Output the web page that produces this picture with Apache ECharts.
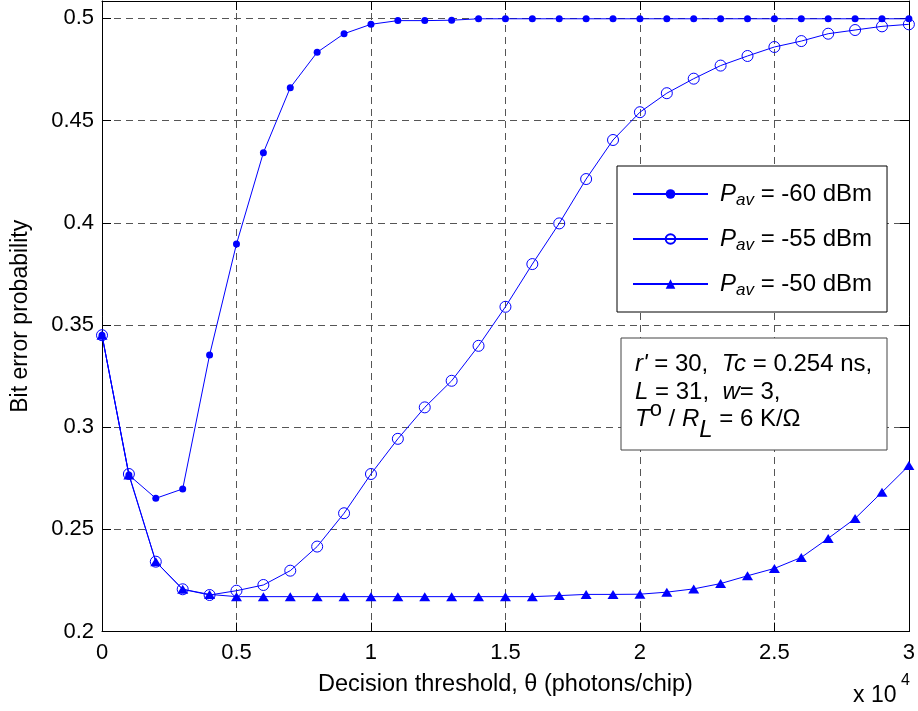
<!DOCTYPE html>
<html><head><meta charset="utf-8">
<script src="https://cdn.jsdelivr.net/npm/echarts@6/dist/echarts.min.js"></script>
<style>html,body{margin:0;padding:0;background:#fff}#c{width:918px;height:711px}</style>
</head><body><div id="c"></div>
<script>
const thresholds = [0,1000,2000,3000,4000,5000,6000,7000,8000,9000,10000,11000,12000,13000,14000,15000,16000,17000,18000,19000,20000,21000,22000,23000,24000,25000,26000,27000,28000,29000,30000];
const pav60 = [0.345,0.2766,0.2652,0.2698,0.3353,0.3896,0.4343,0.4661,0.4834,0.4925,0.4971,0.4989,0.4989,0.4991,0.4998,0.4998,0.4998,0.4998,0.4998,0.4998,0.4998,0.4998,0.4998,0.4998,0.4998,0.4998,0.4998,0.4998,0.4998,0.4998,0.4998];
const pav55 = [0.345,0.2771,0.2342,0.2207,0.2179,0.2200,0.2228,0.2298,0.2416,0.2579,0.2771,0.2943,0.3097,0.3227,0.3398,0.3589,0.3798,0.3997,0.4214,0.4405,0.4541,0.4634,0.4705,0.4769,0.4816,0.4860,0.4889,0.4925,0.4943,0.4961,0.4971];
const pav50 = [0.345,0.2766,0.2342,0.2207,0.2182,0.2171,0.2171,0.2171,0.2171,0.2171,0.2171,0.2171,0.2171,0.2171,0.2171,0.2171,0.2171,0.2176,0.2182,0.2182,0.2183,0.2193,0.2209,0.2235,0.2273,0.2309,0.2363,0.2456,0.2553,0.2682,0.2812];
const seriesPower = ['-60 dBm','-55 dBm','-50 dBm'];

const FONT = "'Liberation Sans', Arial, Helvetica, sans-serif";
const BLUE = '#0000ff';
const chart = echarts.init(document.getElementById('c'));
const pairs = arr => thresholds.map((x,i)=>[x, arr[i]]);
const axisCommon = {
  axisLine:{show:true, onZero:false, lineStyle:{color:'#000', width:1}},
  axisTick:{show:true, inside:true, length:9, lineStyle:{color:'#000'}}
};

// text runs for the annotation box (measured so italic / sub / superscript parts sit side by side)
const mctx = document.createElement('canvas').getContext('2d');
function runs(x0, yMid, parts){
  let x = x0; const out = [];
  parts.forEach(p=>{
    const size = p.size || 24;
    mctx.font = (p.it?'italic ':'') + size + 'px ' + FONT;
    out.push({type:'text', z:101, x:x, y:yMid + (p.dy||0), style:{text:p.t, fontFamily:FONT, fontSize:size,
      fontStyle:p.it?'italic':'normal', fill:'#000', verticalAlign:'middle', align:'left'}});
    x += mctx.measureText(p.t).width;
  });
  return out;
}
const annot = [].concat(
  runs(635, 364, [{t:"r'",it:1},{t:' = 30,  '},{t:'Tc',it:1},{t:' = 0.254 ns,'}]),
  runs(635, 392, [{t:'L',it:1},{t:' = 31,  '},{t:'w',it:1},{t:'= 3,'}]),
  runs(635, 419, [{t:'T',it:1},{t:'o',size:22,dy:-9},{t:' / '},{t:'R',it:1},{t:'L',it:1,dy:11},{t:' = 6 K/Ω'}])
);

chart.setOption({
  animation:false,
  backgroundColor:'#fff',
  grid:{left:102, right:9, top:1, bottom:79.4, containLabel:false},
  xAxis:[
    Object.assign({type:'value', min:0, max:30000, interval:5000, position:'bottom',
      name:'Decision threshold, θ (photons/chip)', nameLocation:'middle', nameGap:41,
      nameTextStyle:{fontFamily:FONT, fontSize:23.5, color:'#000'},
      axisLabel:{fontFamily:FONT, fontSize:22, color:'#000', margin:10, formatter:v=>String(v/10000)},
      splitLine:{show:true, lineStyle:{color:'#555', type:[7,5], width:1}}}, axisCommon),
    Object.assign({type:'value', min:0, max:30000, interval:5000, position:'top',
      axisLabel:{show:false}, splitLine:{show:false}}, axisCommon)
  ],
  yAxis:[
    Object.assign({type:'value', min:0.2, max:0.5085, interval:0.05, position:'left',
      name:'Bit error probability', nameLocation:'middle', nameGap:70,
      nameTextStyle:{fontFamily:FONT, fontSize:23, color:'#000'},
      axisLabel:{fontFamily:FONT, fontSize:22, color:'#000', margin:8, showMaxLabel:false},
      splitLine:{show:true, lineStyle:{color:'#555', type:[7,5], width:1}}}, axisCommon),
    Object.assign({type:'value', min:0.2, max:0.5085, interval:0.05, position:'right',
      axisLabel:{show:false}, splitLine:{show:false}}, axisCommon)
  ],
  legend:{
    orient:'vertical', left:617, top:166,
    backgroundColor:'#fff', borderColor:'#000', borderWidth:1,
    padding:[16,15,13,15], itemWidth:75, itemHeight:12, itemGap:18,
    data:seriesPower,
    formatter:n=>'{p|P}{s|av} = '+n,
    textStyle:{fontFamily:FONT, fontSize:24, color:'#000', padding:[0,0,0,7],
      rich:{
        p:{fontFamily:FONT, fontSize:24, fontStyle:'italic', color:'#000'},
        s:{fontFamily:FONT, fontSize:17, fontStyle:'italic', color:'#000', verticalAlign:'bottom', padding:[0,0,-3,0]}
      }}
  },
  series:[
    {name:seriesPower[0], type:'line', data:pairs(pav60), symbol:'circle', symbolSize:7,
      lineStyle:{color:BLUE, width:1}, itemStyle:{color:BLUE}, z:3},
    {name:seriesPower[1], type:'line', data:pairs(pav55), symbol:'circle', symbolSize:11,
      lineStyle:{color:BLUE, width:1}, itemStyle:{color:'rgba(255,255,255,0)', borderColor:BLUE, borderWidth:1}, z:4},
    {name:seriesPower[2], type:'line', data:pairs(pav50), symbol:'triangle', symbolSize:[11,9],
      lineStyle:{color:BLUE, width:1}, itemStyle:{color:BLUE}, z:5}
  ],
  graphic:[
    {type:'rect', z:100, shape:{x:621, y:338, width:266, height:112}, style:{fill:'#fff', stroke:'#444', lineWidth:1}}
  ].concat(annot, [
    {type:'text', z:101, x:853, y:684, style:{text:'x 10', fontFamily:FONT, fontSize:23, fill:'#000'}},
    {type:'text', z:101, x:901, y:673, style:{text:'4', fontFamily:FONT, fontSize:16, fill:'#000'}}
  ])
});
</script></body></html>
